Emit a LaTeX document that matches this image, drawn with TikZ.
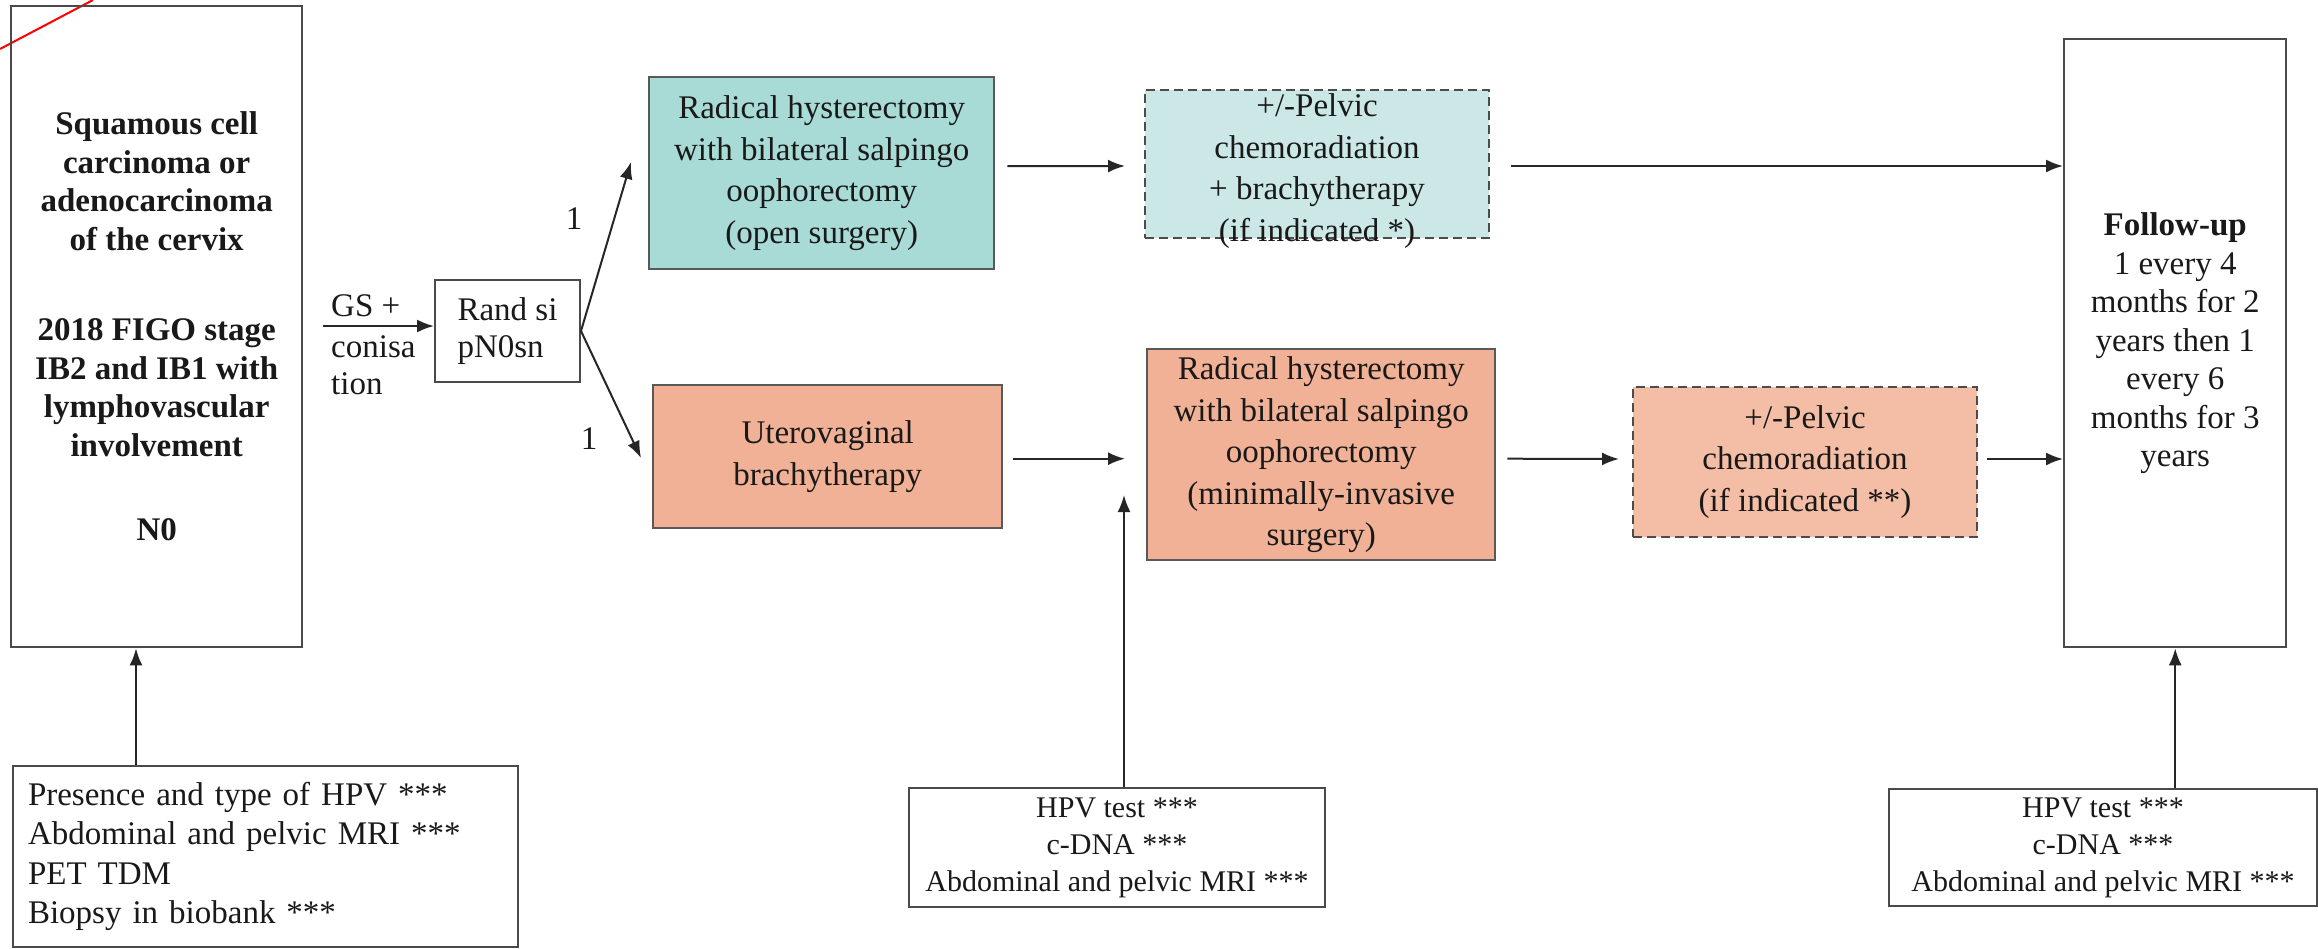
\documentclass[tikz,border=0pt]{standalone}
\usepackage{fontspec}
\setmainfont{Liberation Serif}
\usetikzlibrary{arrows.meta,calc}

\definecolor{tealfill}{HTML}{A8DAD6}
\definecolor{tealpale}{HTML}{CBE8E6}
\definecolor{salmonfill}{HTML}{F0B196}
\definecolor{salmonpale}{HTML}{F3BDA6}
\definecolor{inkgray}{HTML}{4A4A4A}

\begin{document}
\begin{tikzpicture}[x=1pt,y=-1pt,
  every node/.style={font=\fontsize{33}{38.5}\selectfont, text=black!90},
  box/.style={draw=inkgray, line width=2.4pt, inner sep=0pt, align=center, anchor=north west},
  colourtext/.style={font=\fontsize{33}{41.5}\selectfont},
  tealbox/.style={box, colourtext, fill=tealfill, draw=black!65},
  salmonbox/.style={box, colourtext, fill=salmonfill, draw=black!65},
  dashbox/.style={box, colourtext, line width=2pt, dash pattern=on 9pt off 5pt, draw=black!70},
  testbox/.style={box, line width=2pt, font=\fontsize{30}{37}\selectfont},
  link/.style={line width=2pt, draw=black!85, -{Latex[length=17pt,width=13pt]}},
  armlabel/.style={inner sep=0pt},
]
\useasboundingbox (0,0) rectangle (2318,948);

% stray pen mark in the corner
\draw[red, line width=2pt] (0,49) -- (93,0);

% patient population
\node[box, minimum width=291, minimum height=641] (tumour) at (10,5)
  {\textbf{Squamous cell}\\\textbf{carcinoma or}\\\textbf{adenocarcinoma}\\\textbf{of the cervix}\\[52pt]
   \textbf{2018 FIGO stage}\\\textbf{IB2 and IB1 with}\\\textbf{lymphovascular}\\\textbf{involvement}\\[46pt]\textbf{N0}};

% baseline work-up
\node[box, line width=2pt, minimum width=505, minimum height=181, text width=475, inner xsep=15pt, align=left,
      font=\fontsize{33}{39.5}\selectfont] (tests) at (12,765)
  {Presence and type of HPV ***\\Abdominal and pelvic MRI ***\\PET TDM\\Biopsy in biobank ***};

% randomisation
\node[box, line width=2pt, minimum width=145, minimum height=102, align=left,
      font=\fontsize{33}{37}\selectfont] (rand) at (434,279) {Rand si\\pN0sn};
\coordinate (gsstart) at (323,326);
\node[armlabel, anchor=west] (gs) at (331,306) {GS +};
\node[armlabel, anchor=west, align=left, font=\fontsize{33}{37}\selectfont] (conis) at (331,365) {conisa\\tion};

% arm A
\node[tealbox, minimum width=345, minimum height=192] (open) at (648,76)
  {Radical hysterectomy\\with bilateral salpingo\\oophorectomy\\(open surgery)};
\node[dashbox, fill=tealpale, minimum width=344, minimum height=148] (crtA) at (1144,89)
  {\smash{\raisebox{-13pt}{\begin{tabular}{@{}c@{}}+/-Pelvic\\chemoradiation\\+ brachytherapy\\(if indicated *)\end{tabular}}}};

% arm B
\node[salmonbox, minimum width=349, minimum height=143] (uvb) at (652,384)
  {Uterovaginal\\brachytherapy};
\node[salmonbox, minimum width=348, minimum height=211] (mis) at (1146,348)
  {Radical hysterectomy\\with bilateral salpingo\\oophorectomy\\(minimally-invasive\\surgery)};
\node[dashbox, fill=salmonpale, minimum width=344, minimum height=150] (crtB) at (1632,386)
  {+/-Pelvic\\chemoradiation\\(if indicated **)};

% follow-up
\node[box, minimum width=222, minimum height=608] (fu) at (2063,38)
  {\textbf{Follow-up}\\1 every 4\\months for 2\\years then 1\\every 6\\months for 3\\years};

% intermediate work-ups
\node[testbox, minimum width=416, minimum height=119] (midtests) at (908,787)
  {HPV test ***\\c-DNA ***\\Abdominal and pelvic MRI ***};
\node[testbox, minimum width=428, minimum height=117] (futests) at (1888,788)
  {HPV test ***\\c-DNA ***\\Abdominal and pelvic MRI ***};

% arm labels
\node[armlabel] (oneA) at (574,219) {1};
\node[armlabel] (oneB) at (589,439) {1};

% connectors
\coordinate (colA) at (136,0);
\coordinate (tipA) at (631,162);
\coordinate (tipB) at (641,458);
\coordinate (midtip) at (1124,495);

\draw[link] (tests.north -| colA) -- (tumour.south -| colA);
\draw[link] (gsstart) -- (gsstart -| rand.west);
\draw[link] (rand.east) -- (tipA);
\draw[link] (rand.east) -- (tipB);

\draw[link] ($(open.east)+(12,-7)$) -- ($(crtA.west)+(-19,2)$);
\draw[link] ($(crtA.east)+(21,2)$) -- ($(crtA.east -| fu.west)+(0,2)$);

\draw[link] ($(uvb.east)+(10,2)$) -- ($(uvb.east -| mis.west)+(-21,2)$);
\draw[link] ($(mis.east)+(11,4)$) -- ($(crtB.west)+(-13,-3)$);
\draw[link] ($(crtB.east)+(9,-3)$) -- ($(crtB.east -| fu.west)+(0,-3)$);

\draw[link] (midtests.north -| midtip) -- (midtip);
\draw[link] (futests.north -| fu.south) -- (fu.south);
\end{tikzpicture}
\end{document}
